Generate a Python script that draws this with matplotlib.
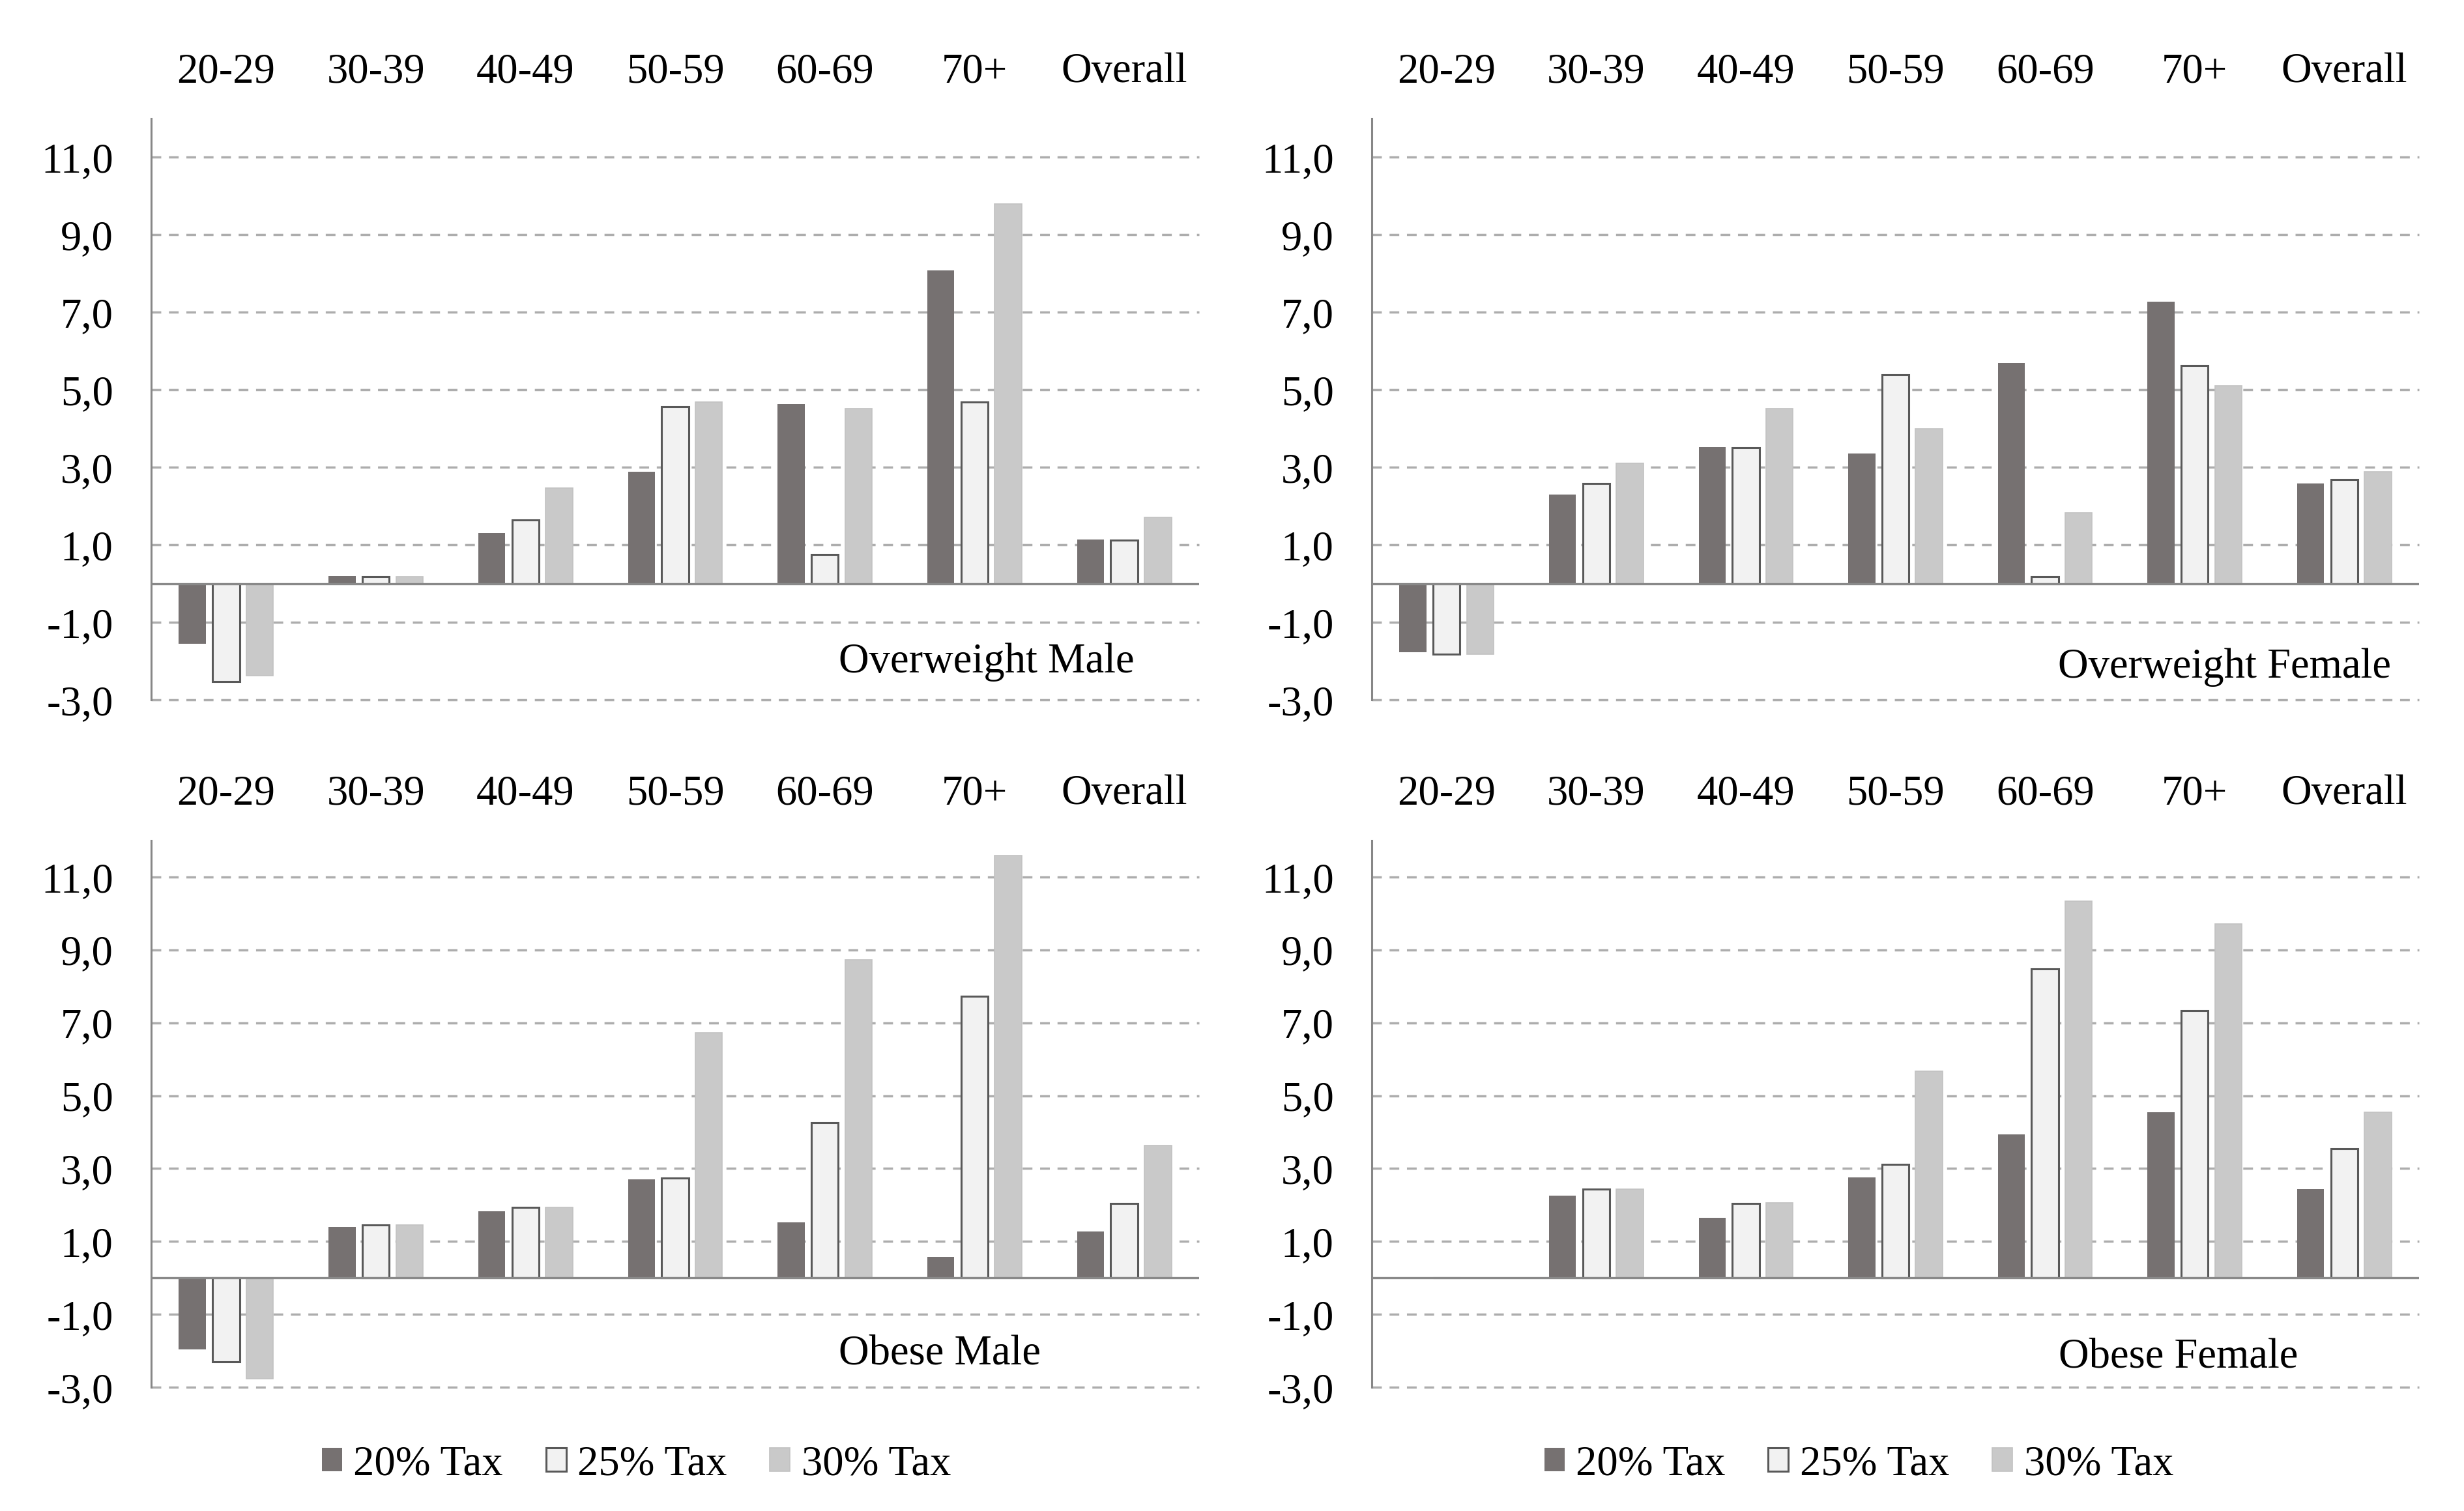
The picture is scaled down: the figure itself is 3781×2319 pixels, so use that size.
import matplotlib
matplotlib.use("Agg")
import matplotlib.pyplot as plt
from matplotlib.patches import Patch
import numpy as np

plt.rcParams['font.family'] = ['Liberation Serif', 'DejaVu Serif']

categories = ["20-29", "30-39", "40-49", "50-59", "60-69", "70+", "Overall"]
series_names = ["20% Tax", "25% Tax", "30% Tax"]

ow_male_20 = [-1.56, 0.19, 1.31, 2.88, 4.63, 8.08, 1.13]
ow_male_25 = [-2.53, 0.17, 1.64, 4.57, 0.75, 4.68, 1.12]
ow_male_30 = [-2.37, 0.17, 2.47, 4.69, 4.51, 9.79, 1.71]

ow_female_20 = [-1.78, 2.30, 3.52, 3.35, 5.69, 7.27, 2.59]
ow_female_25 = [-1.83, 2.58, 3.51, 5.39, 0.17, 5.62, 2.69]
ow_female_30 = [-1.83, 3.11, 4.52, 4.00, 1.83, 5.11, 2.88]

ob_male_20 = [-1.96, 1.39, 1.83, 2.70, 1.52, 0.58, 1.27]
ob_male_25 = [-2.30, 1.46, 1.94, 2.74, 4.25, 7.72, 2.05]
ob_male_30 = [-2.76, 1.46, 1.94, 6.73, 8.73, 11.59, 3.64]

ob_female_20 = [0.0, 2.26, 1.64, 2.75, 3.94, 4.55, 2.43]
ob_female_25 = [0.0, 2.43, 2.05, 3.11, 8.47, 7.34, 3.54]
ob_female_30 = [0.0, 2.43, 2.06, 5.67, 10.34, 9.72, 4.55]

panel_titles = ["Overweight Male", "Overweight Female", "Obese Male", "Obese Female"]
yticks = [-3, -1, 1, 3, 5, 7, 9, 11]
ytick_labels = ["-3,0", "-1,0", "1,0", "3,0", "5,0", "7,0", "9,0", "11,0"]

panels = [
    (ow_male_20, ow_male_25, ow_male_30),
    (ow_female_20, ow_female_25, ow_female_30),
    (ob_male_20, ob_male_25, ob_male_30),
    (ob_female_20, ob_female_25, ob_female_30),
]

W, H = 3781, 2319
fig = plt.figure(figsize=(W / 100, H / 100), dpi=100)

# axes rectangles in pixels: (x0, x1, ytop, ybottom)
rects = [
    (232, 1840, 182, 1074),
    (2105, 3712, 182, 1074),
    (232, 1840, 1290, 2129),
    (2105, 3712, 1290, 2129),
]
title_pos = [(0.656, -2.29), (0.655, -2.43), (0.656, -2.36), (0.656, -2.45)]

FS = 46.5
colors = ["#767171", "#F2F2F2", "#C9C9C9"]
edges = ["#767171", "#595959", "#C2C2C2"]
lws = [0.0, 2.2, 1.2]
offsets = [-0.225, 0.0, 0.225]
bw = 0.18

x = np.arange(len(categories))
axes = []
for k, (vals, rect) in enumerate(zip(panels, rects)):
    x0, x1, yt, yb = rect
    ax = fig.add_axes([x0 / W, 1 - yb / H, (x1 - x0) / W, (yb - yt) / H])
    axes.append(ax)
    for s in range(3):
        ax.bar(x + offsets[s], vals[s], width=bw, color=colors[s],
               edgecolor=edges[s], linewidth=lws[s], zorder=2)
    ax.set_xlim(-0.5, 6.5)
    ax.set_ylim(-3, 12)
    ax.set_yticks(yticks)
    ax.set_yticklabels(ytick_labels)
    for yv in yticks:
        ax.axhline(yv, color="#ADADAD", lw=2.5, dashes=(4.3, 3.4), zorder=0,
                   clip_on=False)
    ax.axhline(0, color="#898989", lw=2.4, zorder=3)
    for sp in ["top", "right", "bottom"]:
        ax.spines[sp].set_visible(False)
    ax.spines["left"].set_color("#878787")
    ax.spines["left"].set_linewidth(2.2)
    ax.set_xticks([])
    ax.tick_params(axis="y", length=0, pad=42, labelsize=FS, colors="black")
    for i, c in enumerate(categories):
        ax.annotate(c, xy=(i, 1), xycoords=("data", "axes fraction"),
                    xytext=(0, 40.3), textcoords="offset points",
                    ha="center", va="baseline", fontsize=FS)
    tx, ty = title_pos[k]
    ax.text(tx, ty, panel_titles[k], transform=ax.get_yaxis_transform(),
            ha="left", va="baseline", fontsize=FS)

handles = [Patch(facecolor=colors[s], edgecolor=edges[s], linewidth=lws[s])
           for s in range(3)]
for ax, cx in [(axes[2], 0.463), (axes[3], 0.465)]:
    ax.legend(handles, series_names, loc="center", bbox_to_anchor=(cx, -0.141),
              ncol=3, frameon=False, fontsize=FS, handlelength=0.48,
              handleheight=0.48, handletextpad=0.27, columnspacing=1.02,
              borderaxespad=0, borderpad=0)

fig.savefig("out.png", dpi=100, facecolor="white")
